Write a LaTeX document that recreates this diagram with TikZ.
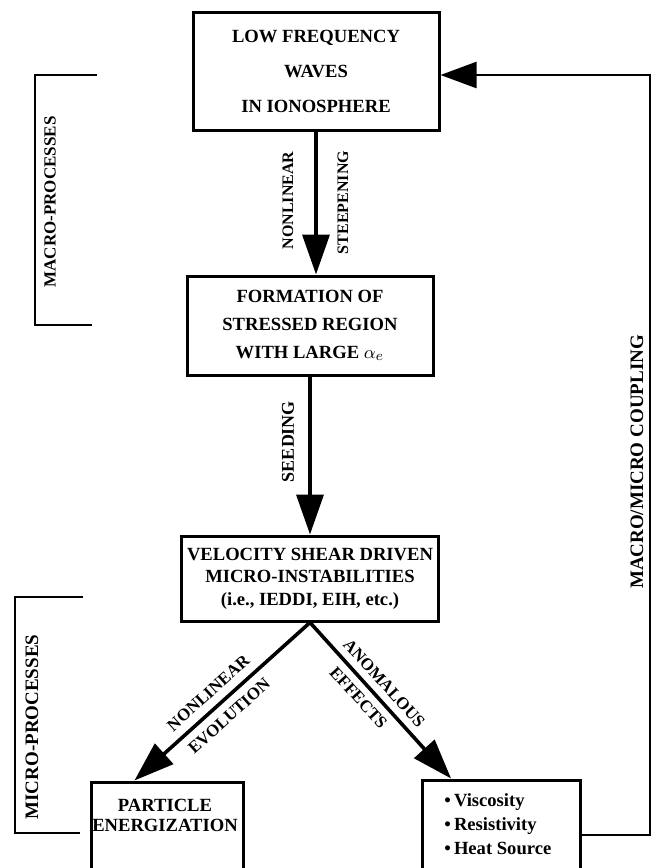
\documentclass[tikz,border=0pt]{standalone}
\usepackage{fontspec}
\setmainfont{Liberation Serif}
\usetikzlibrary{arrows.meta, positioning, calc}
\tikzset{
  block/.style={rectangle, draw=black, line width=1.5pt, align=center,
    inner sep=0pt, font=\bfseries\fontsize{9.3}{17.5}\selectfont},
  frame/.style={rectangle, draw=black, line width=1.5pt, inner sep=0pt},
  flow/.style={-{Triangle[length=20pt, width=13.5pt]}, line width=1.8pt},
  feed/.style={-{Triangle[length=18pt, width=13pt]}, line width=1.2pt},
  bracket/.style={line width=1.1pt},
  lbl/.style={font=\bfseries\fontsize{8}{9}\selectfont, inner sep=1pt},
  side/.style={rotate=90, font=\bfseries\fontsize{9}{10}\selectfont, inner sep=1pt}
}
\begin{document}
\begin{tikzpicture}[x=0.5pt, y=-0.5pt]
  \clip (0,0) rectangle (656,868);

  % Macro-processes
  \node[block, minimum width=123pt, minimum height=59pt] (lfw) at (316,71)
    {LOW FREQUENCY\\WAVES\\IN IONOSPHERE};
  \node[block, below=71.5pt of lfw, xshift=-3pt, minimum width=123pt, minimum height=49.5pt,
    font=\bfseries\fontsize{9.3}{14}\selectfont] (str)
    {FORMATION OF\\STRESSED REGION\\WITH LARGE $\alpha_e$};
  \node[block, below=79pt of str, minimum width=128.5pt, minimum height=42.5pt,
    font=\bfseries\fontsize{9.3}{11.25}\selectfont] (vsd)
    {VELOCITY SHEAR DRIVEN\\MICRO-INSTABILITIES\\(i.e., IEDDI, EIH, etc.)};

  \draw[flow] (lfw.south) -- (lfw.south |- str.north);
  \node[lbl, rotate=90] (nlin) at ($(lfw.south)+(-28,69)$) {NONLINEAR};
  \node[lbl, rotate=90] (stp) at ($(lfw.south)+(27,71)$) {STEEPENING};

  \draw[flow] (str.south) -- (str.south |- vsd.north);
  \node[lbl, rotate=90, font=\bfseries\fontsize{9}{10}\selectfont] (seed)
    at ($(str.south)+(-22,65)$) {SEEDING};

  % Micro-processes
  \node[frame, minimum width=76pt, minimum height=54pt] (pef) at (167,836) {};
  \node[block, draw=none, font=\bfseries\fontsize{9.3}{10}\selectfont] (pe) at (165,815)
    {PARTICLE\\ENERGIZATION};
  \node[frame, minimum width=79pt, minimum height=55pt] (vhr) at (501,835) {};
  \node[anchor=west, align=left, inner sep=0pt,
    font=\bfseries\fontsize{9.3}{12}\selectfont] (eff) at (444,824)
    {\textbullet\,Viscosity\\ \textbullet\,Resistivity\\ \textbullet\,Heat Source};

  \draw[flow] (vsd.south) -- ($(pef.north west)!0.29!(pef.north east)$)
    node[lbl, sloped, above=3pt, pos=.52, font=\bfseries\fontsize{8.5}{9}\selectfont] {NONLINEAR}
    node[lbl, sloped, below=3pt, pos=.52, font=\bfseries\fontsize{8.5}{9}\selectfont] {EVOLUTION};
  \draw[flow] (vsd.south) -- ($(vhr.north west)!0.19!(vhr.north east)$)
    node[lbl, sloped, above=2.5pt, pos=.45, font=\bfseries\fontsize{8.5}{9}\selectfont] {ANOMALOUS}
    node[lbl, sloped, below=2.5pt, pos=.42, font=\bfseries\fontsize{8.5}{9}\selectfont] {EFFECTS};

  % Coupling loop
  \coordinate (fbtop) at (650,75);
  \draw[feed] (vhr.east) -| (fbtop) -- (lfw.east |- fbtop);
  \node[side, font=\bfseries\fontsize{9.5}{10}\selectfont] (cpl) at (637,462) {MACRO/MICRO COUPLING};

  % Brackets
  \draw[bracket] (97,75) -- (35,75) -- (35,325) -- (92,325);
  \node[side, font=\bfseries\fontsize{8.5}{10}\selectfont] (mac) at (50,202) {MACRO-PROCESSES};
  \draw[bracket] (83,597) -- (15,597) -- (15,833) -- (80,833);
  \node[side, font=\bfseries\fontsize{9.5}{10}\selectfont] (mic) at (32,727) {MICRO-PROCESSES};
\end{tikzpicture}
\end{document}
